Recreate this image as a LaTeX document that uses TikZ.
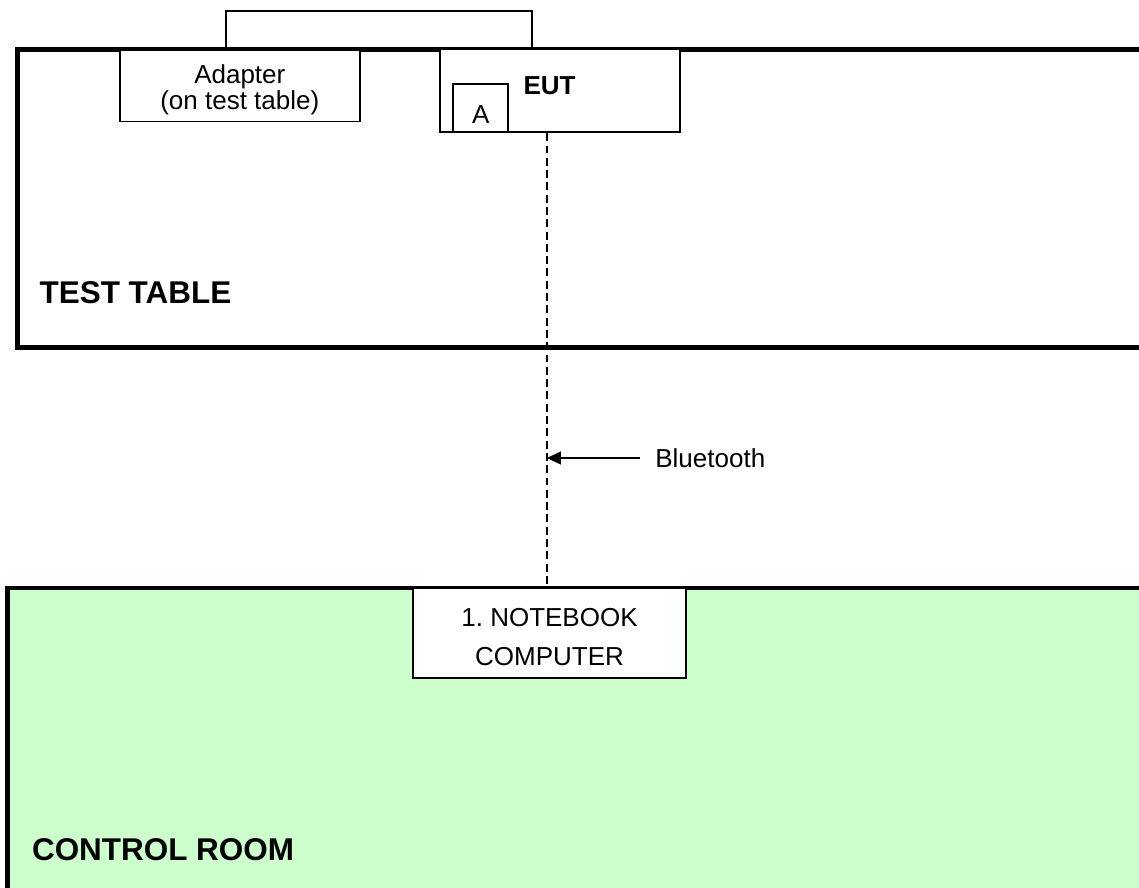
\documentclass[tikz,border=0pt]{standalone}
\usepackage{fontspec}
\setmainfont{Liberation Sans}
\usetikzlibrary{positioning,arrows.meta,calc}
\definecolor{roomgreen}{HTML}{CCFFCC}

\begin{document}
\begin{tikzpicture}[x=0.02cm, y=-0.02cm,
  room/.style={line width=2.6pt},
  roomlbl/.style={font=\fontsize{17.9}{17.9}\selectfont\bfseries, inner sep=0pt, anchor=base west},
  devbox/.style={draw=black, fill=white, line width=1.1pt, inner sep=0pt},
  devlbl/.style={font=\fontsize{14.8}{14.8}\selectfont, inner sep=0pt, align=center},
  wire/.style={line width=1.1pt},
  link/.style={line width=1pt, dash pattern=on 4.5pt off 2.5pt},
  blarrow/.style={line width=0.6pt, -{Triangle[length=7.9pt, width=7.4pt]}, shorten <=8.5pt}
]
\useasboundingbox (0,0) rectangle (1139,888);
\clip (0,0) rectangle (1139,888);

% rooms, both run past the right edge
\draw[room] (17.5,49.5) rectangle (1170,347.5);
\draw[room, fill=roomgreen] (7.5,588) rectangle (1170,920);
\node[roomlbl] (tablelbl) at (39.3,304) {TEST TABLE};
\node[roomlbl] (ctrllbl) at (31.7,860) {CONTROL ROOM};

% devices on the test table
\node[devbox, minimum width=4.81cm, minimum height=1.42cm] (adapter) at (239.8,86) {};
\node[devlbl] (adapterlbl) at ($(adapter)+(0,4)$) {Adapter\\(on test table)};
\node[devbox, minimum width=4.8cm, minimum height=1.67cm] (eut) at (560,90.5) {};
\node[devlbl, anchor=base, font=\fontsize{14.8}{14.8}\selectfont\bfseries] (eutlbl) at (549.5,95) {EUT};
\node[devbox, minimum width=1.094cm, minimum height=0.96cm, anchor=south west] (acc) at ($(eut.south west)+(13.3,0)$) {};
\node[devlbl, anchor=base] (acclbl) at ($(acc.south)+(0,-10)$) {A};

% adapter cable
\draw[wire] ($(adapter.north west)+(107.5,0)$) -- ++(0,-38.5) -| ($(eut.north west)+(93,0)$);

% control room
\node[devbox, minimum width=5.46cm, minimum height=1.8cm] (notebook) at (549.5,633) {};
\node[devlbl, font=\fontsize{14.8}{22.7}\selectfont] (notebooklbl) at ($(notebook)+(0,4)$) {1.\ NOTEBOOK\\COMPUTER};

% radio link
\coordinate (bt) at (547,458);
\draw[link] (eut.south -| bt) -- (notebook.north -| bt);
\node[devlbl, anchor=west] (btlbl) at (655,458) {Bluetooth};
\draw[blarrow] (btlbl) -- (bt);

\end{tikzpicture}
\end{document}
